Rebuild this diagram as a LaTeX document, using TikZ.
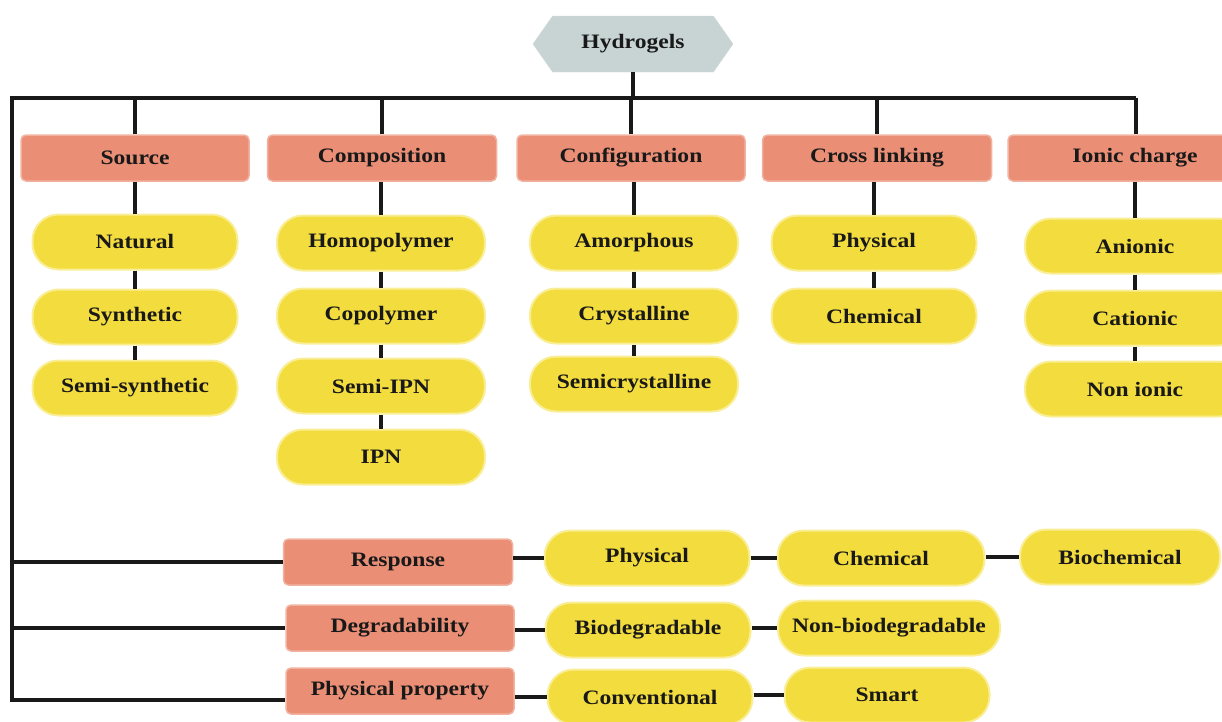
\documentclass[tikz,border=0pt]{standalone}
\usepackage{fontspec}
\setmainfont{Liberation Serif}[FakeStretch=1.15]
\usetikzlibrary{shapes.symbols}
\definecolor{pillfill}{RGB}{243,220,62}
\definecolor{pilledge}{RGB}{249,238,150}
\definecolor{catfill}{RGB}{234,142,118}
\definecolor{catedge}{RGB}{242,178,160}
\definecolor{hexfill}{RGB}{200,212,212}
\begin{document}
\begin{tikzpicture}[x=1pt,y=-1pt,
  txt/.style={font=\fontsize{20.5}{22}\selectfont\bfseries, text=black!90, inner sep=0pt},
  pill/.style={txt, fill=pillfill, draw=pilledge, line width=2pt, rounded corners=26pt, minimum width=205pt, minimum height=55pt},
  cat/.style={txt, fill=catfill, draw=catedge, line width=1.5pt, rounded corners=5pt, minimum width=228pt, minimum height=46pt},
  hexa/.style={txt, shape=signal, signal to=west and east, signal pointer angle=110, fill=hexfill, draw=hexfill!85!white, minimum width=200pt, minimum height=56pt},
  conn/.style={line width=3.2pt, black!90}]
\path[use as bounding box] (0,0) rectangle (1222,721);

% root
\node[hexa] (hyd) at (633,44) {Hydrogels};

% categories
\node[cat] (src) at (135,158) {Source};
\node[cat, minimum width=229pt] (comp) at (382,158) {Composition};
\node[cat] (conf) at (631,158) {Configuration};
\node[cat, minimum width=229pt] (cross) at (877,158) {Cross linking};
\node[cat, minimum width=254pt] (ionic) at (1135,158) {Ionic charge};

% source
\node[pill] (nat) at (135,242) {Natural};
\node[pill] (syn) at (135,317) {Synthetic};
\node[pill] (semis) at (135,388) {Semi-synthetic};
% composition
\node[pill, minimum width=208pt] (homo) at (381,243) {Homopolymer};
\node[pill, minimum width=208pt] (copo) at (381,316) {Copolymer};
\node[pill, minimum width=208pt] (sipn) at (381,386) {Semi-IPN};
\node[pill, minimum width=208pt] (ipn) at (381,457) {IPN};
% configuration
\node[pill, minimum width=208pt] (amor) at (634,243) {Amorphous};
\node[pill, minimum width=208pt] (cryst) at (634,316) {Crystalline};
\node[pill, minimum width=208pt] (semic) at (634,384) {Semicrystalline};
% cross linking
\node[pill] (phys) at (874,243) {Physical};
\node[pill] (chem) at (874,316) {Chemical};
% ionic charge
\node[pill, minimum width=220pt] (anio) at (1135,246) {Anionic};
\node[pill, minimum width=220pt] (catio) at (1135,318) {Cationic};
\node[pill, minimum width=220pt] (nonio) at (1135,389) {Non ionic};

% bottom rows
\node[cat, minimum width=229pt] (resp) at (398,562) {Response};
\node[pill] (rphys) at (647,558) {Physical};
\node[pill, minimum width=207pt] (rchem) at (881,558) {Chemical};
\node[pill, minimum width=200pt] (rbio) at (1120,557) {Biochemical};

\node[cat] (degr) at (400,628) {Degradability};
\node[pill] (biod) at (648,630) {Biodegradable};
\node[pill, minimum width=222pt] (nbiod) at (889,628) {Non-biodegradable};

\node[cat] (pp) at (400,691) {Physical property};
\node[pill] (conv) at (650,697) {Conventional};
\node[pill] (smart) at (887,695) {Smart};

% spine
\coordinate (tl) at (12,98);
\coordinate (tr) at (1136,98);
\coordinate (bl) at (12,700);
\draw[conn] (hyd.south) -- (hyd.south |- tl);
\draw[conn, line join=miter] (tr) -- (tl) -- (bl) -- (bl -| pp.west);
\draw[conn] (tl |- resp.west) -- (resp.west);
\draw[conn] (tl |- degr.west) -- (degr.west);
\foreach \c in {src,comp,conf,cross}{\draw[conn] (tl -| \c.north) -- (\c.north);}
\draw[conn] (tr) -- (tr |- ionic.north);

% verticals
\draw[conn] (src.south) -- (nat.north);
\draw[conn] (nat.south) -- (syn.north);
\draw[conn] (syn.south) -- (semis.north);
\draw[conn] (comp.south -| homo.north) -- (homo.north);
\draw[conn] (homo.south) -- (copo.north);
\draw[conn] (copo.south) -- (sipn.north);
\draw[conn] (sipn.south) -- (ipn.north);
\draw[conn] (conf.south -| amor.north) -- (amor.north);
\draw[conn] (amor.south) -- (cryst.north);
\draw[conn] (cryst.south) -- (semic.north);
\draw[conn] (cross.south -| phys.north) -- (phys.north);
\draw[conn] (phys.south) -- (chem.north);
\draw[conn] (ionic.south) -- (anio.north);
\draw[conn] (anio.south) -- (catio.north);
\draw[conn] (catio.south) -- (nonio.north);

% horizontals
\draw[conn] (resp.east |- rphys.west) -- (rphys.west);
\draw[conn] (rphys.east) -- (rchem.west);
\draw[conn] (rchem.east |- rbio.west) -- (rbio.west);
\draw[conn] (degr.east |- biod.west) -- (biod.west);
\draw[conn] (biod.east |- nbiod.west) -- (nbiod.west);
\draw[conn] (pp.east |- conv.west) -- (conv.west);
\draw[conn] (conv.east |- smart.west) -- (smart.west);
\end{tikzpicture}
\end{document}
